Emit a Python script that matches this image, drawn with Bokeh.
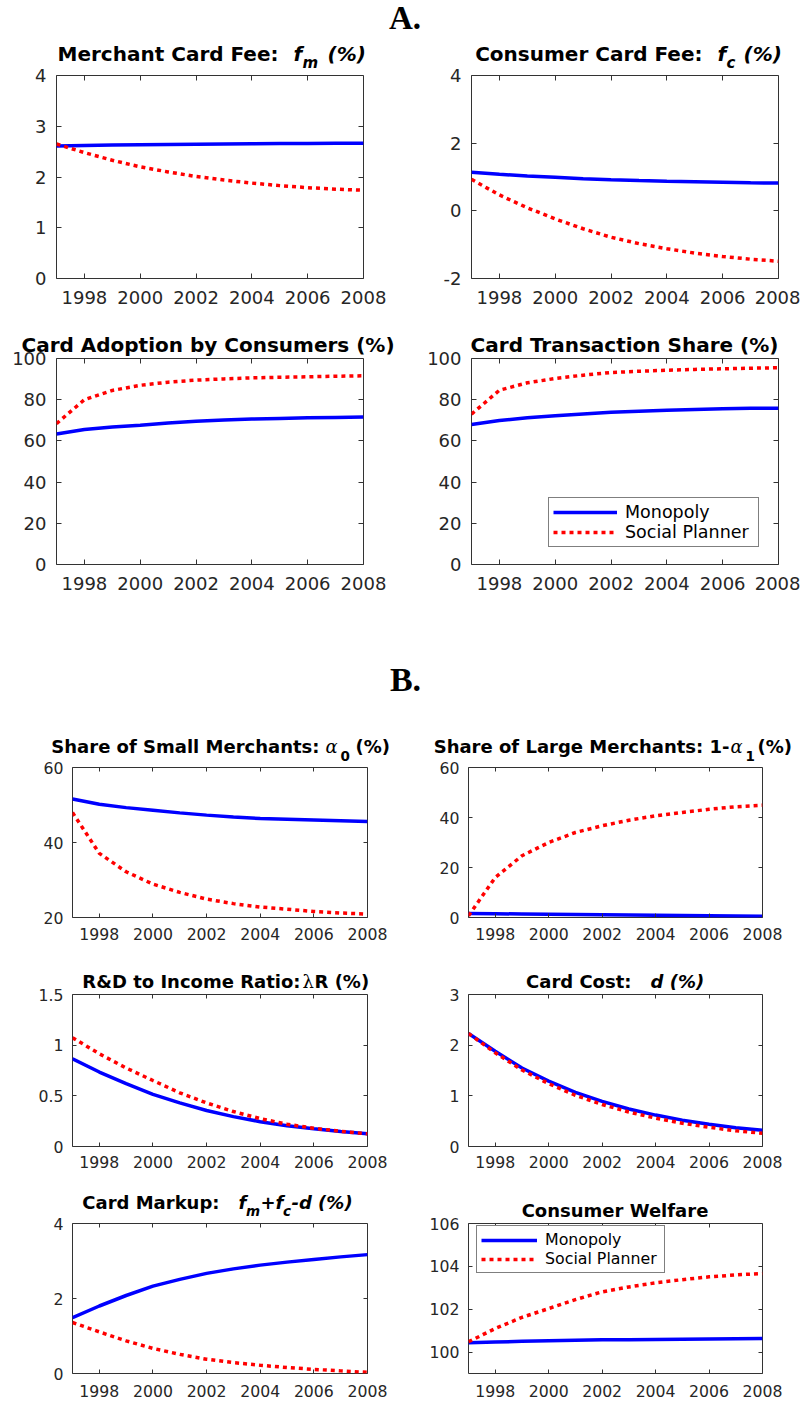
from bokeh.plotting import figure
from bokeh.models import (Label, Legend, LegendItem, LinearAxis, FixedTicker,
                          CustomJSTickFormatter, Range1d)
from bokeh.layouts import column, row
from bokeh.embed import file_html
from bokeh.resources import INLINE

# ---------------- data ----------------
years = [1997, 1998, 1999, 2000, 2001, 2002, 2003, 2004, 2005, 2006, 2007, 2008]
x_ticks = [1998, 2000, 2002, 2004, 2006, 2008]
series_names = ["Monopoly", "Social Planner"]

merchant_fee_monopoly = [2.61, 2.62, 2.63, 2.635, 2.64, 2.645, 2.65, 2.655, 2.66, 2.66, 2.665, 2.665]
merchant_fee_planner = [2.65, 2.48, 2.33, 2.20, 2.10, 2.01, 1.94, 1.88, 1.83, 1.79, 1.76, 1.74]
consumer_fee_monopoly = [1.14, 1.08, 1.03, 0.99, 0.95, 0.92, 0.895, 0.875, 0.86, 0.845, 0.83, 0.82]
consumer_fee_planner = [0.93, 0.47, 0.09, -0.24, -0.53, -0.78, -0.97, -1.12, -1.25, -1.35, -1.43, -1.49]
adoption_monopoly = [63.3, 65.5, 66.7, 67.6, 68.7, 69.5, 70.1, 70.6, 70.9, 71.2, 71.4, 71.6]
adoption_planner = [68.4, 80.0, 84.5, 87.0, 88.5, 89.5, 90.1, 90.6, 90.9, 91.1, 91.4, 91.6]
txn_share_monopoly = [68.0, 69.9, 71.2, 72.2, 73.1, 73.9, 74.4, 74.9, 75.3, 75.6, 75.8, 75.9]
txn_share_planner = [73.0, 84.6, 88.2, 90.3, 91.9, 93.2, 93.8, 94.3, 94.7, 95.0, 95.3, 95.5]
small_merch_monopoly = [51.6, 50.2, 49.3, 48.6, 47.9, 47.3, 46.8, 46.4, 46.2, 46.0, 45.8, 45.6]
small_merch_planner = [48.0, 37.1, 32.2, 28.9, 26.7, 24.9, 23.7, 22.8, 22.2, 21.6, 21.2, 20.9]
large_merch_monopoly = [1.6, 1.5, 1.4, 1.3, 1.2, 1.1, 1.0, 0.9, 0.8, 0.7, 0.6, 0.5]
large_merch_planner = [0.7, 16.0, 24.7, 30.0, 34.0, 36.7, 38.9, 40.7, 42.0, 43.3, 44.3, 44.9]
rd_ratio_monopoly = [0.866, 0.735, 0.62, 0.515, 0.43, 0.355, 0.295, 0.245, 0.205, 0.175, 0.148, 0.125]
rd_ratio_planner = [1.074, 0.915, 0.775, 0.651, 0.53, 0.43, 0.345, 0.275, 0.22, 0.18, 0.15, 0.125]
card_cost_monopoly = [2.23, 1.88, 1.55, 1.29, 1.07, 0.89, 0.74, 0.62, 0.52, 0.44, 0.37, 0.32]
card_cost_planner = [2.23, 1.85, 1.51, 1.24, 1.01, 0.83, 0.68, 0.56, 0.46, 0.38, 0.31, 0.26]
markup_monopoly = [1.49, 1.80, 2.08, 2.33, 2.51, 2.67, 2.79, 2.89, 2.97, 3.04, 3.11, 3.17]
markup_planner = [1.36, 1.11, 0.87, 0.67, 0.51, 0.38, 0.29, 0.22, 0.16, 0.11, 0.07, 0.03]
welfare_monopoly = [100.43, 100.47, 100.50, 100.53, 100.55, 100.57, 100.58, 100.59, 100.60, 100.61, 100.62, 100.63]
welfare_planner = [100.48, 101.10, 101.62, 102.03, 102.45, 102.81, 103.04, 103.23, 103.38, 103.51, 103.60, 103.67]

# ---------------- styling helpers ----------------
AX = "#333333"
TICK_TXT = "#262626"
BLUE = "#0000ff"
RED = "#ff0000"
SANS = "DejaVu Sans"
PAGE_W = 800
BASELINE_FIX = 0.37   # em shift so that a label sits on the wanted baseline
OVERLAP = 12          # panel canvases reach this far up over the title band


def make_panel(left, fw, right, fh, bottom, y_rng, y_ticks,
               tick_font, tick_len, x_standoff, y_standoff):
    top = OVERLAP
    p = figure(width=left + fw + right, height=top + fh + bottom, title=None,
               x_range=Range1d(years[0], years[-1]), y_range=Range1d(*y_rng),
               output_backend="svg", toolbar_location=None,
               min_border_left=left, min_border_right=right,
               min_border_top=top, min_border_bottom=bottom)
    p.xgrid.visible = False
    p.ygrid.visible = False
    p.outline_line_color = AX
    p.outline_line_width = 1
    p.background_fill_color = "white"
    p.border_fill_alpha = 0.0
    fmt = "return tick.toString()"
    for ax, ticks, st in ((p.xaxis[0], x_ticks, x_standoff), (p.yaxis[0], y_ticks, y_standoff)):
        ax.ticker = FixedTicker(ticks=ticks)
        ax.formatter = CustomJSTickFormatter(code=fmt)
        ax.axis_line_color = None
        ax.major_tick_in = tick_len
        ax.major_tick_out = 0
        ax.minor_tick_in = 0
        ax.minor_tick_out = 0
        ax.major_tick_line_color = AX
        ax.major_label_text_font = SANS
        ax.major_label_text_font_size = tick_font
        ax.major_label_text_color = TICK_TXT
        ax.major_label_standoff = st
    # mirrored inward ticks on the top and right edges (take no border space)
    for ticks, place, loc in ((x_ticks, "above", y_rng[1]), (y_ticks, "right", years[-1])):
        ax = LinearAxis(ticker=FixedTicker(ticks=ticks), fixed_location=loc,
                        formatter=CustomJSTickFormatter(code="return ''"),
                        axis_line_color=None, major_tick_in=tick_len, major_tick_out=0,
                        minor_tick_in=0, minor_tick_out=0, major_tick_line_color=AX,
                        major_label_text_font_size="0px", major_label_standoff=0)
        p.add_layout(ax, place)
    return p


def make_strip(top, height):
    """A text-only band; its data coordinates equal page pixel coordinates."""
    s = figure(width=PAGE_W, height=height, title=None, x_range=Range1d(0, PAGE_W),
               y_range=Range1d(top + height, top),
               output_backend="svg", toolbar_location=None, min_border=0,
               x_axis_location=None, y_axis_location=None)
    s.grid.visible = False
    s.outline_line_color = None
    s.border_fill_color = "white"
    s.background_fill_color = "white"
    return s


def panel_row(*figs):
    return row(*figs, margin=(-OVERLAP, 0, 0, 0))


def add_text(s, xp, yp, text, size, style="bold", font=SANS, align="left"):
    s.add_layout(Label(x=xp, y=yp - BASELINE_FIX * size, text=text, text_font=font,
                       text_font_size=f"{size}px",
                       text_font_style=style, text_align=align,
                       text_baseline="alphabetic", text_color="black"))


def add_lines(p, mono, plan):
    r1 = p.line(years, mono, line_color=BLUE, line_width=3.5)
    r2 = p.line(years, plan, line_color=RED, line_width=3.5, line_dash="4 4")
    return r1, r2


def add_legend(p, r1, r2, loc, font_size, glyph_w, label_w):
    leg = Legend(items=[LegendItem(label=series_names[0], renderers=[r1]),
                        LegendItem(label=series_names[1], renderers=[r2])],
                 location=loc, border_line_color="black", border_line_width=1,
                 background_fill_color="white", background_fill_alpha=1.0,
                 label_text_font=SANS, label_text_font_size=font_size,
                 label_text_color="black",
                 glyph_width=glyph_w, glyph_height=18, label_height=18,
                 label_width=label_w, label_standoff=8, padding=4, spacing=0, margin=0)
    p.add_layout(leg)


# ---------------- panel A ----------------
s0 = make_strip(0, 75)
add_text(s0, 404.5, 30, "A.", 33, font="Liberation Serif", align="center")
add_text(s0, 278, 61, "Merchant Card Fee:", 20, align="right")
add_text(s0, 293, 61, "f", 20, style="bold italic")
add_text(s0, 302, 68, "m", 15, style="bold italic")
add_text(s0, 327, 61, "(%)", 20, style="bold italic")
add_text(s0, 702, 61, "Consumer Card Fee:", 20, align="right")
add_text(s0, 717, 61, "f", 20, style="bold italic")
add_text(s0, 726, 68, "c", 15, style="bold italic")
add_text(s0, 743, 61, "(%)", 20, style="bold italic")

A_TF = "18px"
a1 = make_panel(56, 307, 37, 203, 52, (0, 4), [0, 1, 2, 3, 4], A_TF, 5, 12, 10)
add_lines(a1, merchant_fee_monopoly, merchant_fee_planner)
a2 = make_panel(71, 307, 22, 203, 52, (-2, 4), [-2, 0, 2, 4], A_TF, 5, 12, 10)
add_lines(a2, consumer_fee_monopoly, consumer_fee_planner)

s1 = make_strip(330, 28)
add_text(s1, 207.5, 352, "Card Adoption by Consumers (%)", 20, align="center")
add_text(s1, 624, 352, "Card Transaction Share (%)", 20, align="center")

a3 = make_panel(56, 307, 37, 206, 36, (0, 100), [0, 20, 40, 60, 80, 100], A_TF, 5, 12, 10)
add_lines(a3, adoption_monopoly, adoption_planner)
a4 = make_panel(71, 307, 22, 206, 36, (0, 100), [0, 20, 40, 60, 80, 100], A_TF, 5, 12, 10)
r1, r2 = add_lines(a4, txn_share_monopoly, txn_share_planner)
add_legend(a4, r1, r2, (77, 17), "17.5px", 64, 129)

# ---------------- panel B ----------------
s2 = make_strip(600, 167)
add_text(s2, 405, 692, "B.", 34, font="Liberation Serif", align="center")
add_text(s2, 319, 753, "Share of Small Merchants:", 18, align="right")
add_text(s2, 325, 753, "\u03b1", 18, style="italic", font="DejaVu Serif")
add_text(s2, 340, 760, "0", 13.5, style="bold")
add_text(s2, 355, 753, "(%)", 18)
add_text(s2, 729, 753, "Share of Large Merchants: 1-", 18, align="right")
add_text(s2, 730, 753, "\u03b1", 18, style="italic", font="DejaVu Serif")
add_text(s2, 745, 760, "1", 13.5, style="bold")
add_text(s2, 757, 753, "(%)", 18)

B_TF = "15.7px"
b1 = make_panel(72, 295, 33, 150, 43, (20, 60), [20, 40, 60], B_TF, 4, 10, 9)
add_lines(b1, small_merch_monopoly, small_merch_planner)
b2 = make_panel(68, 294, 38, 150, 43, (0, 60), [0, 20, 40, 60], B_TF, 4, 10, 9)
add_lines(b2, large_merch_monopoly, large_merch_planner)

s3 = make_strip(960, 34)
add_text(s3, 300, 988, "R&D to Income Ratio:", 18, align="right")
add_text(s3, 302, 988, "\u03bb", 18, style="normal", font="DejaVu Serif")
add_text(s3, 314, 988, "R (%)", 18)
add_text(s3, 631, 988, "Card Cost:", 18, align="right")
add_text(s3, 650, 988, "d (%)", 18, style="bold italic")

b3 = make_panel(72, 295, 33, 152, 39, (0, 1.5), [0, 0.5, 1, 1.5], B_TF, 4, 9, 9)
add_lines(b3, rd_ratio_monopoly, rd_ratio_planner)
b4 = make_panel(68, 294, 38, 152, 39, (0, 3), [0, 1, 2, 3], B_TF, 4, 9, 9)
add_lines(b4, card_cost_monopoly, card_cost_planner)

s4 = make_strip(1185, 38)
add_text(s4, 219, 1209, "Card Markup:", 18, align="right")
add_text(s4, 238, 1209, "f", 18, style="bold italic")
add_text(s4, 245.5, 1215, "m", 13.5, style="bold italic")
add_text(s4, 260, 1209, "+", 18, style="bold italic")
add_text(s4, 275, 1209, "f", 18, style="bold italic")
add_text(s4, 282.5, 1215, "c", 13.5, style="bold italic")
add_text(s4, 291, 1209, "-d (%)", 18, style="bold italic")
add_text(s4, 614.5, 1217, "Consumer Welfare", 18, align="center")

b5 = make_panel(72, 295, 33, 150, 29, (0, 4), [0, 2, 4], B_TF, 4, 11, 9)
add_lines(b5, markup_monopoly, markup_planner)
b6 = make_panel(68, 294, 38, 150, 29, (99, 106), [100, 102, 104, 106], B_TF, 4, 11, 9)
s1r, s2r = add_lines(b6, welfare_monopoly, welfare_planner)
add_legend(b6, s1r, s2r, (8, 100), "15.8px", 56, 115)

layout = column(s0, panel_row(a1, a2), s1, panel_row(a3, a4), s2, panel_row(b1, b2), s3,
                panel_row(b3, b4), s4, panel_row(b5, b6))

open("out.html", "w").write(file_html(layout, INLINE))
